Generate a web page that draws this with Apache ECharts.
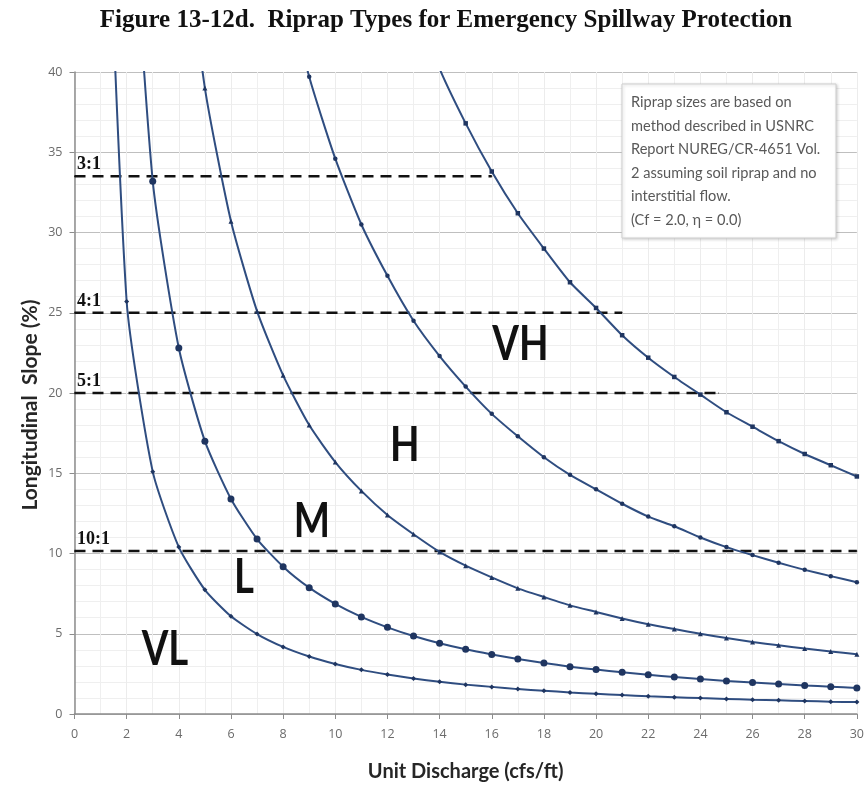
<!DOCTYPE html>
<html>
<head>
<meta charset="utf-8">
<script src="https://cdn.jsdelivr.net/npm/echarts@6/dist/echarts.min.js"></script>
<style>html,body{margin:0;padding:0;background:#fff}#c{width:867px;height:787px}</style>
</head>
<body>
<div id="c"></div>
<script>
// Unit discharge (cfs/ft) at which each boundary curve was plotted
const discharge = [1,2,3,4,5,6,7,8,9,10,11,12,13,14,15,16,17,18,19,20,21,22,23,24,25,26,27,28,29,30];
// Boundary curves, longitudinal slope (%) (null = not plotted)
const curveVL_L = [63.7,25.7,15.1,10.4,7.74,6.09,4.98,4.18,3.58,3.12,2.75,2.46,2.21,2.01,1.83,1.69,1.55,1.45,1.34,1.26,1.18,1.11,1.05,0.99,0.94,0.89,0.85,0.81,0.77,0.74];
const curveL_M  = [null,56.5,33.2,22.8,17.0,13.4,10.9,9.18,7.87,6.86,6.05,5.40,4.86,4.41,4.03,3.71,3.42,3.18,2.95,2.77,2.60,2.44,2.30,2.18,2.06,1.96,1.87,1.78,1.70,1.62];
const curveM_H  = [null,null,null,52.2,39.0,30.7,25.1,21.1,18.0,15.7,13.9,12.4,11.2,10.1,9.24,8.51,7.83,7.29,6.77,6.36,5.95,5.59,5.29,5.00,4.73,4.49,4.28,4.08,3.90,3.73];
const curveH_VH = [null,null,null,null,null,null,null,46.4,39.7,34.6,30.5,27.3,24.5,22.3,20.4,18.7,17.3,16.0,14.9,14.0,13.1,12.3,11.7,11.0,10.4,9.90,9.42,8.98,8.59,8.21];
const curveVH   = [null,null,null,null,null,null,null,null,null,null,null,null,44.4,40.2,36.8,33.8,31.2,29.0,26.9,25.3,23.6,22.2,21.0,19.9,18.8,17.9,17.0,16.2,15.5,14.8];

// Side-slope reference lines
const slopeRatios   = ['3:1','4:1','5:1','10:1'];
const slopeValues   = [33.5, 25, 20, 10.15];
const slopeLineEnds = [16, 21, 24.7, 30];

// Riprap type region labels
const regionNames = ['VL','L','M','H','VH'];
const regionX     = [3.47, 6.5, 9.1, 12.67, 17.1];
const regionY     = [4.0, 8.5, 12.0, 16.7, 23.0];

const noteLines = [
  'Riprap sizes are based on',
  'method described in USNRC',
  'Report NUREG/CR-4651 Vol.',
  '2 assuming soil riprap and no',
  'interstitial flow.',
  '(Cf = 2.0, \u03B7 = 0.0)'
];

function pairs(vals) {
  return discharge.map((x, i) => vals[i] == null ? null : [x, vals[i]]).filter(Boolean);
}

const lineColor = '#2f4d80';
const markColor = '#1f3560';
const curveDefs = [
  { name: 'VL-L', vals: curveVL_L, symbol: 'diamond', size: 5 },
  { name: 'L-M',  vals: curveL_M,  symbol: 'circle',  size: 7 },
  { name: 'M-H',  vals: curveM_H,  symbol: 'triangle', size: 5 },
  { name: 'H-VH', vals: curveH_VH, symbol: 'circle',  size: 4.5 },
  { name: 'VH',   vals: curveVH,   symbol: 'rect',    size: 4.5 }
];

const series = curveDefs.map(c => ({
  type: 'line',
  name: c.name,
  data: pairs(c.vals),
  smooth: 0.2,
  clip: true,
  symbol: c.symbol,
  symbolSize: c.size,
  showSymbol: true,
  lineStyle: { color: lineColor, width: 2 },
  itemStyle: { color: markColor },
  z: 3,
  silent: true
}));

slopeRatios.forEach((r, i) => {
  series.push({
    type: 'line',
    name: r,
    data: [
      { value: [0, slopeValues[i]],
        label: { show: true, formatter: r, position: [3, -20],
          fontFamily: 'Liberation Serif', fontWeight: 'bold', fontSize: 18, color: '#111' } },
      [slopeLineEnds[i], slopeValues[i]]
    ],
    symbol: 'circle',
    symbolSize: 1,
    showSymbol: true,
    itemStyle: { color: '#111' },
    lineStyle: { color: '#111', width: 2.5, type: [11, 7] },
    z: 2,
    silent: true
  });
});

const chart = echarts.init(document.getElementById('c'));
chart.setOption({
  animation: false,
  backgroundColor: '#fff',
  grid: { left: 74.5, right: 10, top: 72, bottom: 72 },
  xAxis: {
    type: 'value', min: 0, max: 30, interval: 2,
    name: 'Unit Discharge (cfs/ft)', nameLocation: 'middle', nameGap: 48,
    nameTextStyle: { fontFamily: 'Lato', fontWeight: 'bold', fontSize: 20, color: '#262626' },
    axisLine: { show: true, lineStyle: { color: '#8c8c8c', width: 1.5 } },
    axisTick: { show: true, length: 5, lineStyle: { color: '#8c8c8c' } },
    axisLabel: { margin: 14, color: '#6b6b6b', fontSize: 12.5, fontFamily: 'Open Sans' },
    splitLine: { show: true, lineStyle: { color: '#ececec' } },
    minorTick: { show: false, splitNumber: 2 },
    minorSplitLine: { show: true, lineStyle: { color: '#efefef' } }
  },
  yAxis: {
    type: 'value', min: 0, max: 40, interval: 5,
    axisLine: { show: true, lineStyle: { color: '#8c8c8c', width: 1.5 } },
    axisTick: { show: true, length: 5, lineStyle: { color: '#8c8c8c' } },
    axisLabel: { margin: 12, color: '#6b6b6b', fontSize: 12.5, fontFamily: 'Open Sans' },
    splitLine: { show: true, lineStyle: { color: '#bfbfbf', width: 1.2 } },
    minorTick: { show: false, splitNumber: 5 },
    minorSplitLine: { show: true, lineStyle: { color: '#efefef' } }
  },
  series: series
});

const graphics = [
  { type: 'text', x: 446, y: 21, z: 10,
    style: { text: 'Figure 13-12d.  Riprap Types for Emergency Spillway Protection',
      font: 'bold 25px "Liberation Serif"', fill: '#111', align: 'center', verticalAlign: 'middle' } },
  { type: 'text', x: 30, y: 405, rotation: Math.PI / 2, z: 10,
    style: { text: 'Longitudinal  Slope (%)', font: 'bold 21px Lato', fill: '#262626',
      align: 'center', verticalAlign: 'middle' } },
  { type: 'group', x: 622, y: 84, z: 10, children: [
    { type: 'rect', shape: { x: 0, y: 0, width: 214, height: 154 },
      style: { fill: '#fff', stroke: '#cfcfcf', lineWidth: 1,
        shadowBlur: 3, shadowColor: 'rgba(0,0,0,0.18)', shadowOffsetX: 1, shadowOffsetY: 1 } },
    { type: 'text', x: 9, y: 7,
      style: { text: noteLines.join('\n'), font: '14.6px Lato', fill: '#595959', lineHeight: 23.5,
        align: 'left', verticalAlign: 'top' } }
  ] }
];
regionNames.forEach((n, i) => {
  const p = chart.convertToPixel({ gridIndex: 0 }, [regionX[i], regionY[i]]);
  graphics.push({ type: 'text', x: p[0], y: p[1], scaleX: 0.8, z: 10,
    style: { text: n, font: 'bold 48px Lato', fill: '#111', align: 'center', verticalAlign: 'middle' } });
});
chart.setOption({ graphic: graphics });
</script>
</body>
</html>
